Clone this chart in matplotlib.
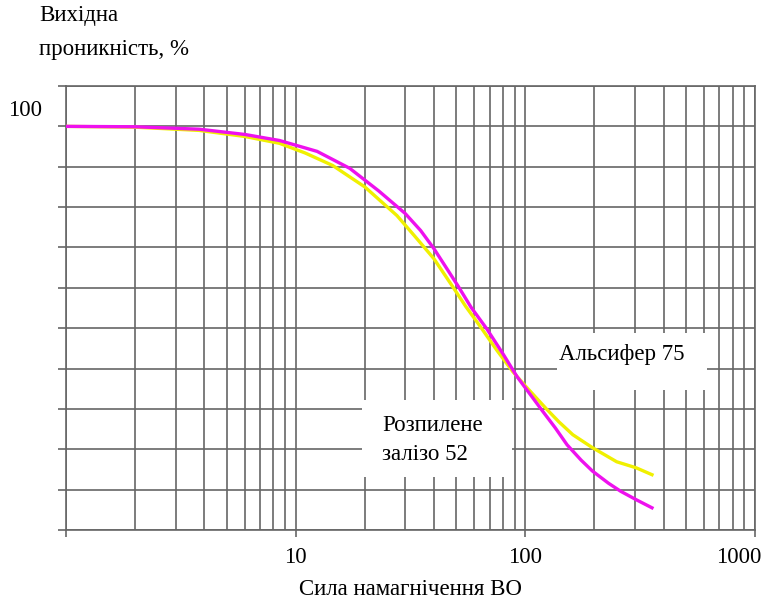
from matplotlib import pyplot as plt
from matplotlib.patches import Rectangle
from matplotlib import transforms
import numpy as np

plt.rcParams['font.family'] = ['Liberation Serif', 'DejaVu Serif']
plt.rcParams['font.size'] = 16.5

# Data
alsifer_x = [1, 2, 3.8, 6, 8.5, 11, 14.5, 20, 27.6, 33, 40, 48, 55, 63.5, 75, 88, 100, 124, 140, 161, 196, 250, 304, 356]
alsifer_y = [100, 99.8, 99.0, 97.5, 95.8, 93.4, 90.3, 85.0, 77.9, 72.8, 67.2, 60.5, 55.4, 50.5, 44.6, 39.3, 35.7, 29.9, 26.8, 23.6, 20.4, 16.9, 15.4, 13.7]
iron_x = [1, 2, 3.8, 6, 8.5, 12.4, 17.2, 23, 30, 35, 40, 51, 58, 68, 80, 92, 105, 118, 135, 152, 175, 196, 230, 260, 304, 356]
iron_y = [100, 99.9, 99.3, 98.0, 96.5, 93.8, 89.6, 84.0, 78.4, 74.2, 69.7, 60.4, 55.2, 49.8, 43.6, 38.0, 33.6, 29.7, 25.3, 21.1, 17.3, 14.6, 11.6, 9.6, 7.5, 5.5]

x_major = [1, 10, 100, 1000]
x_labels = ['', '10', '100', '1000']
y_grid = list(range(0, 111, 10))

GRID = '#666666'

fig = plt.figure(figsize=(7.65, 5.99), dpi=100)
ax = fig.add_axes([66/765, 69/599, 689/765, 444/599])

ax.set_xscale('log')
ax.set_xlim(1, 1000)
ax.set_ylim(0, 110)

ax.set_xticks(x_major)
ax.set_xticklabels(x_labels)
ax.set_xticks([m * d for d in (1, 10, 100) for m in range(2, 10)], minor=True)
ax.set_yticks(y_grid)
ax.set_yticklabels([])
ax.tick_params(axis='x', which='major', length=5, width=1.2, color=GRID, pad=7)
ax.tick_params(axis='x', which='minor', length=0)
ax.tick_params(axis='y', length=6, width=1.2, color=GRID)

# keep "1000" inside the picture, as in the reference
last = ax.get_xticklabels()[-1]
last.set_transform(last.get_transform() + transforms.ScaledTranslation(-16/100, 0, fig.dpi_scale_trans))

ax.set_axisbelow(True)
ax.grid(which='both', axis='x', color=GRID, lw=1.2)
ax.grid(which='major', axis='y', color=GRID, lw=1.2)
for s in ax.spines.values():
    s.set_color(GRID)
    s.set_linewidth(1.2)

ax.plot(alsifer_x, alsifer_y, color='#F0F000', lw=2.4, zorder=3)
ax.plot(iron_x, iron_y, color='#EE11EE', lw=2.4, zorder=3)

# white label boxes covering the grid
ax.add_patch(Rectangle((0.713, 0.315), 0.217, 0.129, transform=ax.transAxes,
                       facecolor='white', edgecolor='none', zorder=2))
ax.add_patch(Rectangle((0.430, 0.119), 0.218, 0.174, transform=ax.transAxes,
                       facecolor='white', edgecolor='none', zorder=2))
ax.text(0.716, 0.396, 'Альсифер 75', transform=ax.transAxes, va='center', zorder=4)
ax.text(0.459, 0.236, 'Розпилене', transform=ax.transAxes, va='center', zorder=4)
ax.text(0.459, 0.169, 'залізо 52', transform=ax.transAxes, va='center', zorder=4)

blend = transforms.blended_transform_factory(ax.transAxes, ax.transData)
ax.text(-0.035, 104, '100', transform=blend, ha='right', va='center')

fig.text(39/765, 1 - 21/599, 'Вихідна', va='baseline')
fig.text(39/765, 1 - 55/599, 'проникність, %', va='baseline')
ax.set_xlabel('Сила намагнічення ВО', labelpad=8)

fig.savefig('out.png', dpi=100)
